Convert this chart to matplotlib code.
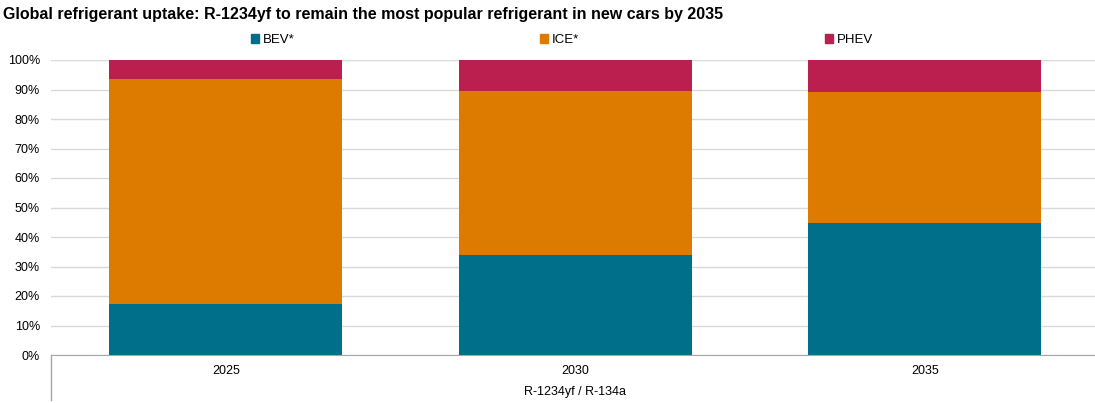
import matplotlib.pyplot as plt
from matplotlib.patches import Patch

plt.rcParams['font.family'] = ['Liberation Sans', 'DejaVu Sans']

years = ["2025", "2030", "2035"]
bev = [17.2, 33.9, 44.7]
ice = [76.2, 55.7, 44.6]
phev = [6.6, 10.4, 10.7]
series_names = ["BEV*", "ICE*", "PHEV"]
colors = ["#006F8A", "#DD7A00", "#BA1F50"]
group_label = "R-1234yf / R-134a"

fig = plt.figure(figsize=(10.95, 4.03), dpi=100)
ax = fig.add_axes([51 / 1095, 48 / 403, 1044 / 1095, 295 / 403])

x = list(range(len(years)))
w = 0.667
bottom = [0] * len(years)
for vals, c in zip([bev, ice, phev], colors):
    ax.bar(x, vals, width=w, bottom=bottom, color=c, zorder=3)
    bottom = [b + v for b, v in zip(bottom, vals)]

# ---- Axes ----
ax.set_xlim(-0.5, 2.487)
ax.set_ylim(0, 100)
ax.set_yticks(range(0, 101, 10))
ax.set_yticklabels([f"{t}%" for t in range(0, 101, 10)], fontsize=9)
ax.set_xticks(x)
ax.set_xticklabels(years, fontsize=9)
ax.tick_params(axis="y", length=0, pad=8)
ax.tick_params(axis="x", length=0, pad=7)
ax.grid(axis="y", color="#D9D9D9", linewidth=1, zorder=0)
for s in ["top", "right", "left"]:
    ax.spines[s].set_visible(False)
ax.spines["bottom"].set_color("#A6A6A6")
ax.spines["bottom"].set_zorder(4)

# second-level category label
ax.plot([0, 0], [0, -0.153], transform=ax.transAxes, color="#A6A6A6",
        linewidth=1, clip_on=False)
ax.text(1, -0.125, group_label, transform=ax.get_xaxis_transform(),
        ha="center", va="center", fontsize=9)

# ---- Title ----
fig.text(3 / 1095, 1 - 15 / 403, "Global refrigerant uptake: R-1234yf to remain the most popular refrigerant in new cars by 2035",
         fontsize=11.5, fontweight="bold", ha="left", va="center")

# ---- Legend ----
handles = [Patch(color=c, label=n) for n, c in zip(series_names, colors)]
fig.legend(handles=handles, loc="center", bbox_to_anchor=(562 / 1095, 1 - 40 / 403),
           ncol=3, frameon=False, fontsize=9.5, handlelength=0.6, handleheight=0.6,
           handletextpad=0.3, columnspacing=18.6)

fig.savefig("out.png", dpi=100)
